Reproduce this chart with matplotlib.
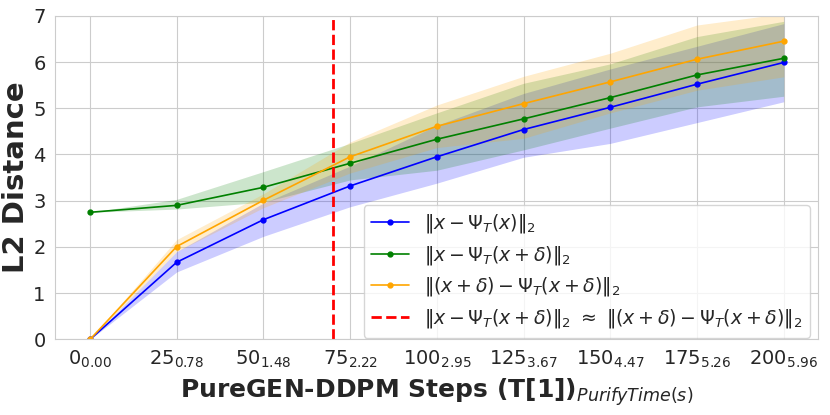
import matplotlib
matplotlib.use("Agg")
import matplotlib.pyplot as plt
import seaborn as sns

sns.set_style("whitegrid")

steps = [0, 25, 50, 75, 100, 125, 150, 175, 200]
purify_time = ["0.00", "0.78", "1.48", "2.22", "2.95", "3.67", "4.47", "5.26", "5.96"]

clean_mean = [0.0, 1.67, 2.59, 3.32, 3.95, 4.54, 5.02, 5.52, 5.99]
clean_lo = [0.0, 1.46, 2.23, 2.87, 3.38, 3.94, 4.24, 4.69, 5.14]
clean_hi = [0.0, 1.90, 2.95, 3.75, 4.63, 5.32, 5.85, 6.34, 6.83]

adv_mean = [2.75, 2.90, 3.29, 3.81, 4.33, 4.77, 5.23, 5.72, 6.08]
adv_lo = [2.75, 2.82, 2.97, 3.45, 3.66, 4.10, 4.57, 5.03, 5.26]
adv_hi = [2.75, 3.03, 3.63, 4.24, 4.90, 5.54, 5.96, 6.55, 6.88]

pert_mean = [0.0, 2.01, 3.01, 3.95, 4.61, 5.10, 5.57, 6.06, 6.45]
pert_lo = [0.0, 1.90, 2.85, 3.60, 4.15, 4.35, 4.90, 5.39, 5.68]
pert_hi = [0.0, 2.16, 3.15, 4.27, 5.07, 5.69, 6.19, 6.80, 7.05]

cross_step = 70

fig = plt.figure(figsize=(8.3, 4.15), dpi=100)
ax = fig.add_axes([0.0666, 0.182, 0.9194, 0.780])

ax.plot(steps, clean_mean, color="blue", marker="o", markersize=3.5, lw=1.2,
        label=r"$\|x-\Psi_T(x)\|_2$")
ax.fill_between(steps, clean_lo, clean_hi, color="blue", alpha=0.2, lw=0)
ax.plot(steps, adv_mean, color="green", marker="o", markersize=3.5, lw=1.2,
        label=r"$\|x-\Psi_T(x+\delta)\|_2$")
ax.fill_between(steps, adv_lo, adv_hi, color="green", alpha=0.2, lw=0)
ax.plot(steps, pert_mean, color="orange", marker="o", markersize=3.5, lw=1.2,
        label=r"$\|(x+\delta)-\Psi_T(x+\delta)\|_2$")
ax.fill_between(steps, pert_lo, pert_hi, color="orange", alpha=0.2, lw=0)
ax.axvline(cross_step, color="red", ls="--", lw=2,
           label=r"$\|x-\Psi_T(x+\delta)\|_2\ \approx\ \|(x+\delta)-\Psi_T(x+\delta)\|_2$")

ax.set_ylim(0, 7)
ax.set_xlim(-10, 210)
ax.set_xticks(steps)
ax.set_xticklabels([r"$%d_{%s}$" % (s, t) for s, t in zip(steps, purify_time)])
ax.tick_params(axis="both", labelsize=14)
ax.set_ylabel("L2 Distance", fontsize=21, fontweight="bold", labelpad=2)
ax.set_xlabel(r"PureGEN-DDPM Steps (T[1])$_{PurifyTime(s)}$", fontsize=18, fontweight="bold")
ax.legend(loc="lower right", fontsize=13.6, bbox_to_anchor=(0.989, 0.006),
          borderaxespad=0, labelspacing=0.45)

fig.savefig("out.png", dpi=100)
